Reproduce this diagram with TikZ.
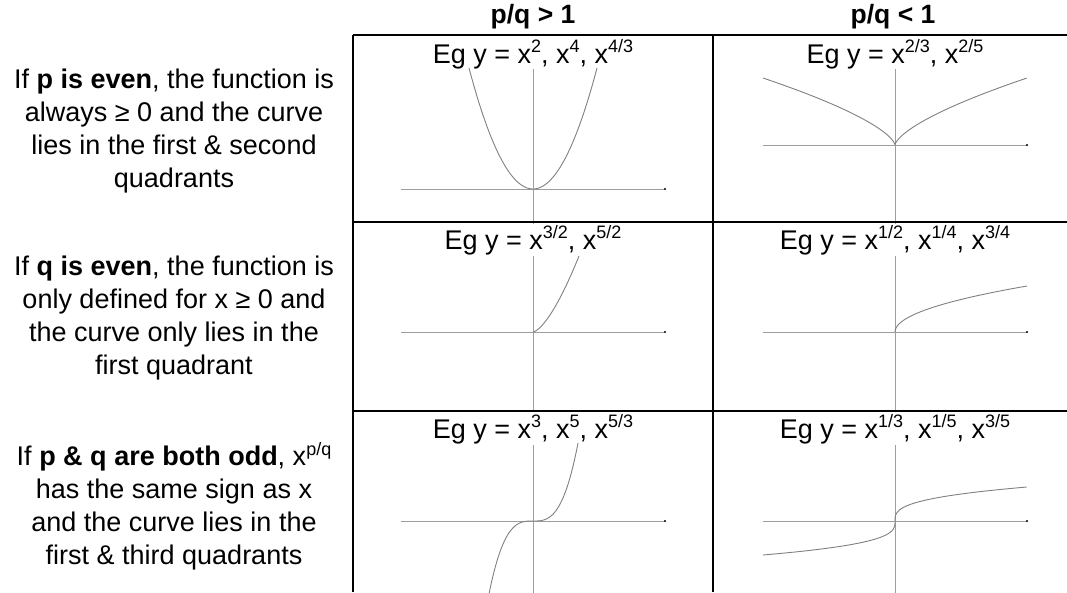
\documentclass[tikz,border=0pt]{standalone}
\usepackage{fontspec}
\setmainfont{Liberation Sans}
\newcommand{\sups}[1]{\raisebox{0.38em}{\fontsize{18}{18}\selectfont #1}}
\definecolor{axisgray}{gray}{0.62}
\definecolor{curvegray}{gray}{0.5}

\begin{document}
\begin{tikzpicture}[
  x=1pt, y=-1pt,
  txt/.style={font=\fontsize{27}{33}\selectfont, align=center, inner sep=0pt},
  head/.style={font=\fontsize{26.5}{28}\selectfont\bfseries, inner sep=0pt, anchor=base},
  eg/.style={font=\fontsize{27}{28}\selectfont, inner sep=0pt, anchor=base},
  grid/.style={line width=2.6pt},
  axis/.style={axisgray, line width=0.9pt},
  curve/.style={curvegray, line width=0.9pt}
]
\useasboundingbox (0,0) rectangle (1067,592);
\clip (0,0) rectangle (1067,592);

\node[head] (hgt) at (533,23) {p/q > 1};
\node[head] (hlt) at (893,23) {p/q < 1};

\node[txt] (peven) at (174,131) {If \textbf{p is even}, the function is\\always ≥ 0 and the curve\\lies in the first \& second\\quadrants};
\node[txt] (qeven) at (174,318) {If \textbf{q is even}, the function is\\only defined for x ≥ 0 and\\the curve only lies in the\\first quadrant};
\node[txt] (odd) at (174,506) {If \textbf{p \& q are both odd}, x\sups{p/q}\\has the same sign as x\\and the curve lies in the\\first \& third quadrants};

\foreach \cx/\oy/\rt in {533/189/35, 895/145/35, 533/332/222, 895/332/222, 533/521/411, 895/521/411} {
  \draw[axis] (\cx-132,\oy) -- (\cx+132,\oy);
  \draw[axis] (\cx,\rt+34) -- (\cx,\rt+189);
  \fill (\cx+132,\oy) circle (1.1);
}

\draw[curve] plot[domain=-1:1, samples=80, variable=\t] ({533+64*\t}, {189-121*\t*\t});
\draw[curve] plot[domain=-1:1, samples=120, variable=\t] ({895+132*\t*\t*\t}, {145-67*\t*\t});
\draw[curve] plot[domain=0:1, samples=60, variable=\t] ({533+46*\t*\t}, {332-76*\t*\t*\t});
\draw[curve] plot[domain=0:1, samples=60, variable=\t] ({895+132*\t*\t}, {332-46*\t});
\draw[curve] plot[domain=-1.05:1, samples=100, variable=\t] ({533+45*\t}, {521-78*\t*\t*\t});
\draw[curve] plot[domain=-1:1, samples=120, variable=\t] ({895+132*\t*\t*\t}, {521-34*\t});

\node[eg] (eg1) at (533,63) {Eg y = x\sups{2}, x\sups{4}, x\sups{4/3}};
\node[eg] (eg2) at (895,63) {Eg y = x\sups{2/3}, x\sups{2/5}};
\node[eg] (eg3) at (533,249) {Eg y = x\sups{3/2}, x\sups{5/2}};
\node[eg] (eg4) at (895,249) {Eg y = x\sups{1/2}, x\sups{1/4}, x\sups{3/4}};
\node[eg] (eg5) at (533,438) {Eg y = x\sups{3}, x\sups{5}, x\sups{5/3}};
\node[eg] (eg6) at (895,438) {Eg y = x\sups{1/3}, x\sups{1/5}, x\sups{3/5}};

\draw[grid] (353,35) -- (1067,35);
\draw[grid] (353,222) -- (1067,222);
\draw[grid] (353,411) -- (1067,411);
\draw[grid] (353,35) -- (353,592);
\draw[grid] (713,35) -- (713,592);
\end{tikzpicture}
\end{document}
